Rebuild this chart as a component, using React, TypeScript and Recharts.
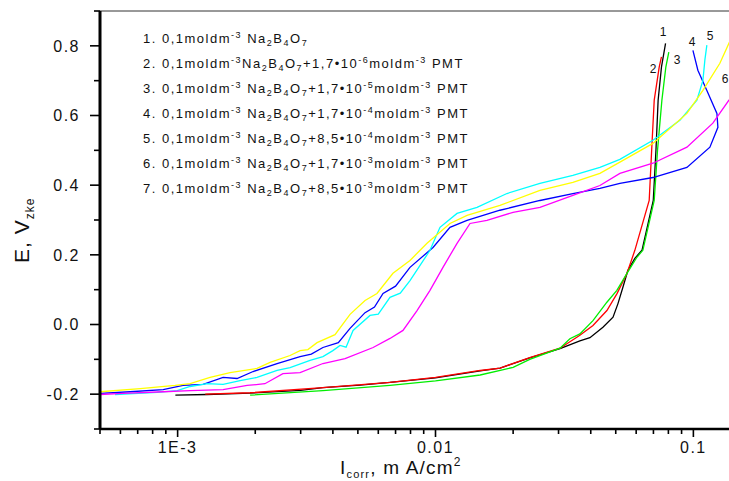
import React from 'react';
import { LineChart, Line, XAxis, YAxis, ReferenceLine } from 'recharts';

// I_corr (mA/cm2), E (V) pairs
const curve1: [number, number][] = [
  [9.8e-4, -0.203], [1.3e-3, -0.201], [1.91e-3, -0.197], [3.0e-3, -0.189], [3.66e-3, -0.181],
  [5.1e-3, -0.174], [6.66e-3, -0.166], [1.0e-2, -0.153], [1.49e-2, -0.133], [1.78e-2, -0.125],
  [2.32e-2, -0.096], [3.04e-2, -0.069], [3.63e-2, -0.047], [3.97e-2, -0.038], [4.46e-2, -0.008],
  [4.88e-2, 0.021], [5.1e-2, 0.06], [5.33e-2, 0.107], [5.57e-2, 0.155], [5.93e-2, 0.19],
  [6.32e-2, 0.213], [6.99e-2, 0.356], [7.16e-2, 0.5], [7.3e-2, 0.644], [7.52e-2, 0.739],
  [7.8e-2, 0.807],
];
const curve2: [number, number][] = [
  [1.28e-3, -0.2], [1.91e-3, -0.196], [3.66e-3, -0.181], [6.66e-3, -0.166], [1.0e-2, -0.152],
  [1.49e-2, -0.132], [1.78e-2, -0.125], [2.32e-2, -0.095], [3.04e-2, -0.068], [3.63e-2, -0.031],
  [4.08e-2, -0.003], [4.62e-2, 0.04], [5.05e-2, 0.088], [5.52e-2, 0.146], [5.93e-2, 0.213],
  [6.74e-2, 0.356], [6.89e-2, 0.5], [7.05e-2, 0.644], [7.37e-2, 0.739], [7.52e-2, 0.768],
];
const curve3: [number, number][] = [
  [1.91e-3, -0.203], [3.66e-3, -0.19], [6.66e-3, -0.175], [1.0e-2, -0.162], [1.49e-2, -0.145],
  [2.0e-2, -0.123], [2.32e-2, -0.1], [3.04e-2, -0.068], [3.32e-2, -0.041], [3.63e-2, -0.027],
  [4.08e-2, 0.011], [4.62e-2, 0.064], [5.05e-2, 0.098], [5.52e-2, 0.146], [6.04e-2, 0.193],
  [6.37e-2, 0.213], [7.05e-2, 0.356], [7.26e-2, 0.5], [7.55e-2, 0.644], [7.82e-2, 0.739],
  [8.03e-2, 0.782],
];
const curve4: [number, number][] = [
  [5.0e-4, -0.198], [6.54e-4, -0.193], [8.79e-4, -0.187], [1.05e-3, -0.175], [1.256e-3, -0.172],
  [1.501e-3, -0.152], [1.7e-3, -0.155], [1.962e-3, -0.135], [2.43e-3, -0.112], [2.984e-3, -0.092],
  [3.3e-3, -0.085], [3.66e-3, -0.066], [4.2e-3, -0.052], [4.662e-3, -0.011], [5.33e-3, 0.034],
  [5.8e-3, 0.05], [6.26e-3, 0.089], [7.0e-3, 0.11], [7.963e-3, 0.164], [9.78e-3, 0.221],
  [1.138e-2, 0.279], [1.325e-2, 0.299], [1.778e-2, 0.328], [2.541e-2, 0.356], [3.41e-2, 0.376],
  [4.341e-2, 0.391], [5.189e-2, 0.405], [6.97e-2, 0.422], [9.44e-2, 0.451], [0.1159, 0.509],
  [0.1245, 0.566], [0.1234, 0.606], [0.1128, 0.672], [0.1041, 0.73], [0.0996, 0.787],
];
const curve5: [number, number][] = [
  [5.72e-4, -0.201], [8.33e-4, -0.195], [9.96e-4, -0.19], [1.118e-3, -0.178], [1.3e-3, -0.17],
  [1.501e-3, -0.172], [1.747e-3, -0.161], [2.032e-3, -0.152], [2.43e-3, -0.132], [2.729e-3, -0.124],
  [3.263e-3, -0.103], [3.66e-3, -0.092], [4.0e-3, -0.075], [4.264e-3, -0.06], [4.5e-3, -0.065],
  [4.79e-3, -0.017], [5.572e-3, 0.026], [6.0e-3, 0.03], [6.661e-3, 0.078], [7.3e-3, 0.09],
  [7.963e-3, 0.126], [9.52e-3, 0.213], [1.041e-2, 0.279], [1.212e-2, 0.319], [1.449e-2, 0.336],
  [1.892e-2, 0.376], [2.541e-2, 0.405], [3.41e-2, 0.428], [4.341e-2, 0.451], [5.189e-2, 0.474],
  [6.97e-2, 0.529], [8.863e-2, 0.586], [0.1032, 0.644], [0.1089, 0.701], [0.1108, 0.759],
  [0.1128, 0.802],
];
const curve6: [number, number][] = [
  [5.0e-4, -0.201], [6.15e-4, -0.198], [8.79e-4, -0.193], [1.118e-3, -0.19], [1.501e-3, -0.187],
  [1.86e-3, -0.175], [2.18e-3, -0.17], [2.56e-3, -0.141], [2.984e-3, -0.138], [3.66e-3, -0.112],
  [4.46e-3, -0.098], [5.73e-3, -0.066], [6.661e-3, -0.04], [7.48e-3, -0.017], [8.48e-3, 0.04],
  [9.52e-3, 0.098], [1.069e-2, 0.164], [1.212e-2, 0.233], [1.361e-2, 0.29], [1.583e-2, 0.299],
  [1.998e-2, 0.322], [2.541e-2, 0.336], [3.41e-2, 0.371], [4.341e-2, 0.399], [5.189e-2, 0.434],
  [6.97e-2, 0.463], [9.44e-2, 0.509], [0.119, 0.578], [0.1373, 0.644], [0.1656, 0.7],
];
const curve7: [number, number][] = [
  [5.0e-4, -0.193], [7.16e-4, -0.184], [9.78e-4, -0.175], [1.118e-3, -0.17], [1.336e-3, -0.152],
  [1.597e-3, -0.138], [2.032e-3, -0.126], [2.283e-3, -0.109], [2.729e-3, -0.089], [2.984e-3, -0.075],
  [3.2e-3, -0.072], [3.473e-3, -0.052], [4.077e-3, -0.029], [4.662e-3, 0.029], [5.33e-3, 0.069],
  [5.93e-3, 0.089], [6.84e-3, 0.147], [7.963e-3, 0.184], [9.27e-3, 0.233], [1.138e-2, 0.29],
  [1.325e-2, 0.313], [1.778e-2, 0.342], [2.541e-2, 0.385], [3.41e-2, 0.408], [4.341e-2, 0.434],
  [5.189e-2, 0.466], [6.97e-2, 0.52], [9.44e-2, 0.606], [0.1089, 0.672], [0.1267, 0.75],
  [0.1448, 0.845],
];

const curves = [curve1, curve2, curve3, curve4, curve5, curve6, curve7];
const curveColors = ['#000000', '#ff0000', '#00ee00', '#0000ff', '#00ffff', '#ff00ff', '#ffff00'];

const xMajorTicks = [0.001, 0.01, 0.1];
const xTickLabels = ['1E-3', '0.01', '0.1'];
const xMinorTicks = [
  0.0005, 0.0006, 0.0007, 0.0008, 0.0009,
  0.002, 0.003, 0.004, 0.005, 0.006, 0.007, 0.008, 0.009,
  0.02, 0.03, 0.04, 0.05, 0.06, 0.07, 0.08, 0.09, 0.2,
];
const yMajorTicks = [-0.2, 0, 0.2, 0.4, 0.6, 0.8];
const yMinorTicks = [-0.3, -0.1, 0.1, 0.3, 0.5, 0.7, 0.9];

// concentration of PMT per legend line (null = pure borate)
const legendConc: ([string, string] | null)[] = [
  null, ['1,7', '-6'], ['1,7', '-5'], ['1,7', '-4'], ['8,5', '-4'], ['1,7', '-3'], ['8,5', '-3'],
];
const curveLabels = ['1', '2', '3', '4', '5', '6'];
const curveLabelPos = [[663, 36], [653, 73], [677, 64], [692, 46], [710, 40], [725, 83]];

const FONT = '"Liberation Sans", Arial, sans-serif';
const near = (a: number, b: number) => Math.abs(a - b) < 1e-9 * Math.max(1, Math.abs(b));

function XTick(props: any) {
  const { x, y, payload } = props;
  const idx = xMajorTicks.findIndex((t) => near(t, payload.value));
  const major = idx >= 0;
  return (
    <g>
      <line x1={x} x2={x} y1={y} y2={y + (major ? 8 : 5)} stroke="#000" strokeWidth={1.6} />
      {major && (
        <text x={x} y={y + 24} textAnchor="middle" fontFamily={FONT} fontSize={16} letterSpacing={1.5} fill="#111">
          {xTickLabels[idx]}
        </text>
      )}
    </g>
  );
}

function YTick(props: any) {
  const { x, y, payload } = props;
  const major = yMajorTicks.some((t) => Math.abs(t - payload.value) < 1e-9);
  return (
    <g>
      <line x1={x - (major ? 10 : 6)} x2={x} y1={y} y2={y} stroke="#000" strokeWidth={1.6} />
      {major && (
        <text x={x - 20} y={y} dy="0.36em" textAnchor="end" fontFamily={FONT} fontSize={16} letterSpacing={1.5} fill="#111">
          {payload.value.toFixed(1)}
        </text>
      )}
    </g>
  );
}

function Overlay() {
  const sub = { fontSize: 9 };
  return (
    <svg width={729} height={481} style={{ position: 'absolute', left: 0, top: 0, pointerEvents: 'none' }}>
      {legendConc.map((c, i) => (
        <text key={i} x={143} y={43 + i * 25} fontFamily={FONT} fontSize={13} letterSpacing={1.5} fill="#111">
          {`${i + 1}. 0,1moldm`}
          <tspan dy={-5} {...sub}>-3</tspan>
          <tspan dy={5}>{i === 1 ? 'Na' : ' Na'}</tspan>
          <tspan dy={3} {...sub}>2</tspan>
          <tspan dy={-3}>B</tspan>
          <tspan dy={3} {...sub}>4</tspan>
          <tspan dy={-3}>O</tspan>
          <tspan dy={3} {...sub}>7</tspan>
          {c && (
            <>
              <tspan dy={-3}>{`+${c[0]}•10`}</tspan>
              <tspan dy={-5} {...sub}>{c[1]}</tspan>
              <tspan dy={5}>moldm</tspan>
              <tspan dy={-5} {...sub}>-3</tspan>
              <tspan dy={5}> PMT</tspan>
            </>
          )}
        </text>
      ))}
      {curveLabels.map((l, i) => (
        <text key={l} x={curveLabelPos[i][0]} y={curveLabelPos[i][1]} textAnchor="middle" fontFamily={FONT} fontSize={12} fill="#111">
          {l}
        </text>
      ))}
      <text x={29} y={263} transform="rotate(-90 29 263)" fontFamily={FONT} fontSize={21} letterSpacing={1} fill="#111">
        E, V<tspan dy={5} fontSize={12}>zke</tspan>
      </text>
      <text x={340} y={474} fontFamily={FONT} fontSize={19} letterSpacing={1.2} fill="#111">
        I<tspan dy={4} fontSize={11}>corr</tspan>
        <tspan dy={-4}>, m A/cm</tspan>
        <tspan dy={-8} fontSize={12}>2</tspan>
      </text>
    </svg>
  );
}

export default function App() {
  return (
    <div style={{ position: 'fixed', left: 0, top: 0, width: 729, height: 481, overflow: 'hidden', background: '#fff' }}>
      <LineChart width={800} height={481} margin={{ top: 11, right: 29, bottom: 0, left: 0 }}>
        <XAxis
          type="number"
          dataKey="i"
          scale="log"
          domain={[0.0005, 0.2]}
          allowDataOverflow
          ticks={[...xMinorTicks, ...xMajorTicks].sort((a, b) => a - b)}
          interval={0}
          tick={<XTick />}
          tickLine={false}
          tickSize={0}
          tickMargin={0}
          height={52}
          axisLine={{ stroke: '#000', strokeWidth: 2.5 }}
        />
        <YAxis
          type="number"
          dataKey="e"
          domain={[-0.3, 0.9]}
          allowDataOverflow
          ticks={[...yMinorTicks, ...yMajorTicks].sort((a, b) => a - b)}
          interval={0}
          tick={<YTick />}
          tickLine={false}
          tickSize={0}
          tickMargin={0}
          width={100}
          axisLine={{ stroke: '#000', strokeWidth: 3 }}
        />
        <ReferenceLine y={0.9} stroke="#333" strokeWidth={1} />
        {curves.map((c, k) => (
          <Line
            key={k}
            data={c.map(([i, e]) => ({ i, e }))}
            dataKey="e"
            type="linear"
            stroke={curveColors[k]}
            strokeWidth={1.3}
            dot={false}
            isAnimationActive={false}
          />
        ))}
      </LineChart>
      <Overlay />
    </div>
  );
}
